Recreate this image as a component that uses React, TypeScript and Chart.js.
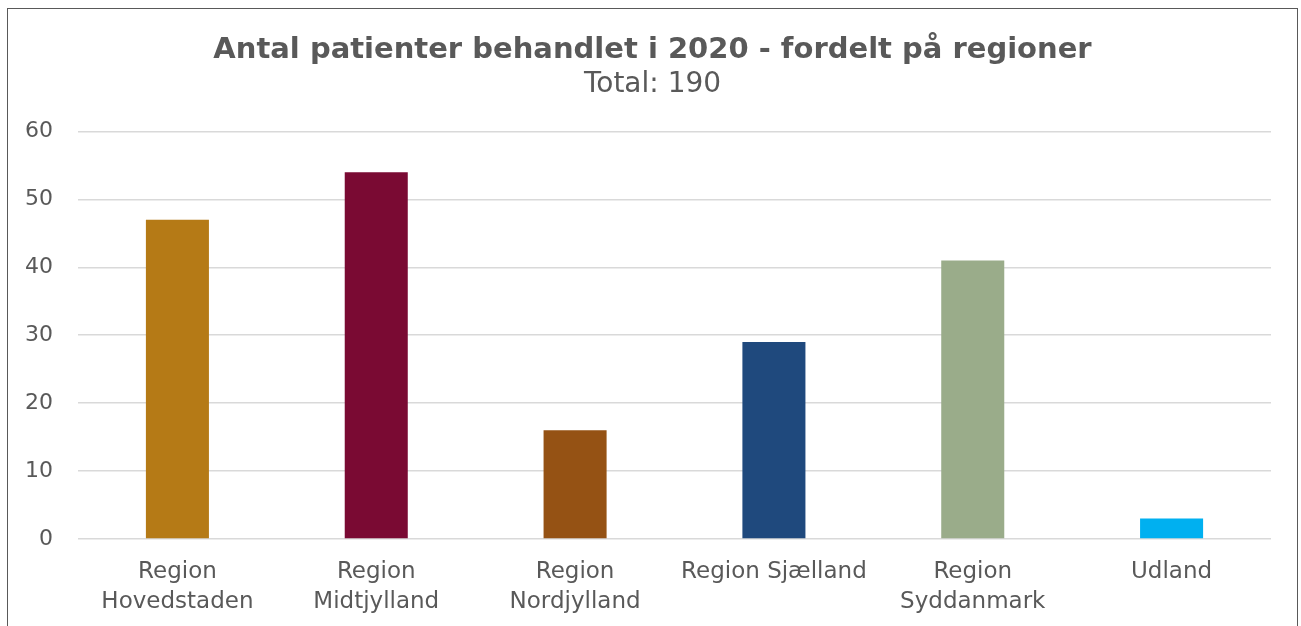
import React, { useEffect, useRef } from "react";
import { Chart, registerables } from "chart.js";

Chart.register(...registerables);

const categories: (string | string[])[] = [
  ["Region", "Hovedstaden"],
  ["Region", "Midtjylland"],
  ["Region", "Nordjylland"],
  "Region Sjælland",
  ["Region", "Syddanmark"],
  "Udland",
];
const values = [47, 54, 16, 29, 41, 3];
const barColors = ["#B57A16", "#7A0A33", "#955214", "#1F497D", "#9AAC8A", "#00B0F0"];
const titleText = "Antal patienter behandlet i 2020 - fordelt på regioner";
const subtitleText = "Total: 190";
const yMin = 0;
const yMax = 60;
const yStep = 10;

const FONT = "'DejaVu Sans', Verdana, sans-serif";
const TEXT = "#595959";

const widenYAxis = {
  id: "widenYAxis",
  afterLayout(chart: any) {
    const y = chart.scales.y;
    if (y) y.left = 0;
  },
};

export default function App() {
  const ref = useRef<HTMLCanvasElement>(null);
  useEffect(() => {
    if (!ref.current) return;
    const chart = new Chart(ref.current, {
      type: "bar",
      data: {
        labels: categories,
        datasets: [
          {
            data: values,
            backgroundColor: barColors,
            barPercentage: 0.317,
            categoryPercentage: 1,
          },
        ],
      },
      options: {
        animation: false,
        responsive: false,
        layout: { padding: { top: 24, left: 26, right: 26, bottom: 0 } },
        plugins: {
          legend: { display: false },
          tooltip: { enabled: false },
          title: {
            display: true,
            text: titleText,
            color: TEXT,
            font: { family: FONT, size: 29, weight: "bold" },
            padding: { top: 0, bottom: 0 },
          },
          subtitle: {
            display: true,
            text: subtitleText,
            color: TEXT,
            font: { family: FONT, size: 28, weight: "normal" },
            padding: { top: 0, bottom: 30 },
          },
        },
        scales: {
          x: {
            grid: { display: false, drawTicks: false },
            border: { display: false },
            ticks: {
              color: TEXT,
              font: { family: FONT, size: 23, lineHeight: 1.3 },
              padding: 18,
              maxRotation: 0,
              autoSkip: false,
            },
            afterFit: (s: any) => {
              s.height = 87;
            },
          },
          y: {
            min: yMin,
            max: yMax,
            grid: { color: "#D9D9D9", lineWidth: 1.5, drawTicks: false },
            border: { display: false },
            ticks: {
              stepSize: yStep,
              color: TEXT,
              font: { family: FONT, size: 22 },
              padding: 25,
            },
            afterFit: (s: any) => {
              s.width = 44;
            },
          },
        },
      },
      plugins: [widenYAxis],
    });
    return () => chart.destroy();
  }, []);
  return (
    <div
      style={{
        position: "absolute",
        left: 7,
        top: 8,
        width: 1291,
        height: 640,
        border: "1px solid #595959",
        boxSizing: "border-box",
        overflow: "hidden",
        background: "#fff",
      }}
    >
      <canvas ref={ref} width={1289} height={617} style={{ display: "block" }} />
    </div>
  );
}
